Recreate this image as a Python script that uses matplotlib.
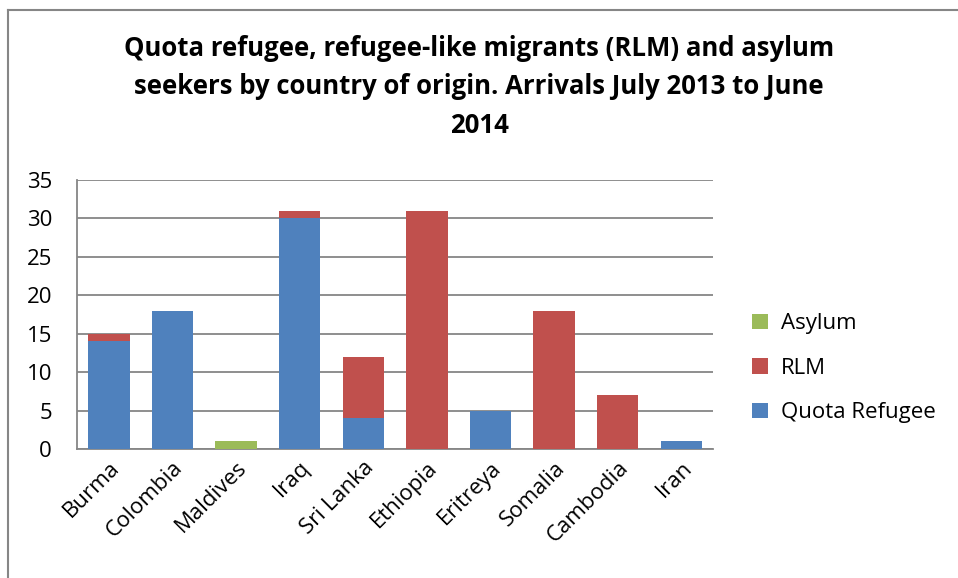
import numpy as np
import matplotlib.pyplot as plt

# data
countries = ['Burma', 'Colombia', 'Maldives', 'Iraq', 'Sri Lanka', 'Ethiopia',
             'Eritreya', 'Somalia', 'Cambodia', 'Iran']
quota = [14, 18, 0, 30, 4, 0, 5, 0, 0, 1]
rlm = [1, 0, 0, 1, 8, 31, 0, 18, 7, 0]
asylum = [0, 0, 1, 0, 0, 0, 0, 0, 0, 0]

plt.rcParams['font.family'] = ['Open Sans', 'DejaVu Sans']

fig = plt.figure(figsize=(9.58, 5.78), dpi=100)

# chart area border: background axes showing only top and left edges
bg = fig.add_axes([0.008, 0.0, 0.992, 0.983])
bg.set_xticks([])
bg.set_yticks([])
for s in ['bottom', 'right']:
    bg.spines[s].set_visible(False)
for s in ['top', 'left']:
    bg.spines[s].set_color('#868686')
    bg.spines[s].set_linewidth(1.5)

ax = fig.add_axes([0.0804, 0.2232, 0.664, 0.4654])

x = np.arange(len(countries))
q = np.array(quota)
r = np.array(rlm)
a = np.array(asylum)
w = 0.65
b1 = ax.bar(x, q, w, color='#4F81BD', label='Quota Refugee', zorder=3)
b2 = ax.bar(x, r, w, bottom=q, color='#C0504D', label='RLM', zorder=3)
b3 = ax.bar(x, a, w, bottom=q + r, color='#9BBB59', label='Asylum', zorder=3)

ax.set_xlim(-0.5, len(countries) - 0.5)
ax.set_ylim(0, 35)
ax.set_yticks(range(0, 36, 5))
ax.yaxis.grid(True, color='#868686', linewidth=1.3, zorder=0)
ax.tick_params(axis='y', length=0, labelsize=16, pad=18)
ax.tick_params(axis='x', length=0, labelsize=16, pad=6)
ax.set_xticks(x)
ax.set_xticklabels(countries, rotation=45, ha='right', rotation_mode='anchor')
for s in ['top', 'right']:
    ax.spines[s].set_visible(False)
for s in ['left', 'bottom']:
    ax.spines[s].set_color('#868686')
    ax.spines[s].set_linewidth(1.3)

leg = ax.legend(handles=[b3, b2, b1], loc='center left', bbox_to_anchor=(1.03, 0.30),
                frameon=False, fontsize=16, handlelength=0.7, handleheight=0.7,
                labelspacing=1.05, handletextpad=0.6)

fig.text(0.5, 0.94, 'Quota refugee, refugee-like migrants (RLM) and asylum\n'
         'seekers by country of origin. Arrivals July 2013 to June\n2014',
         ha='center', va='top', fontsize=18.5, fontweight='bold', linespacing=1.55)

fig.savefig('out.png', dpi=100)
